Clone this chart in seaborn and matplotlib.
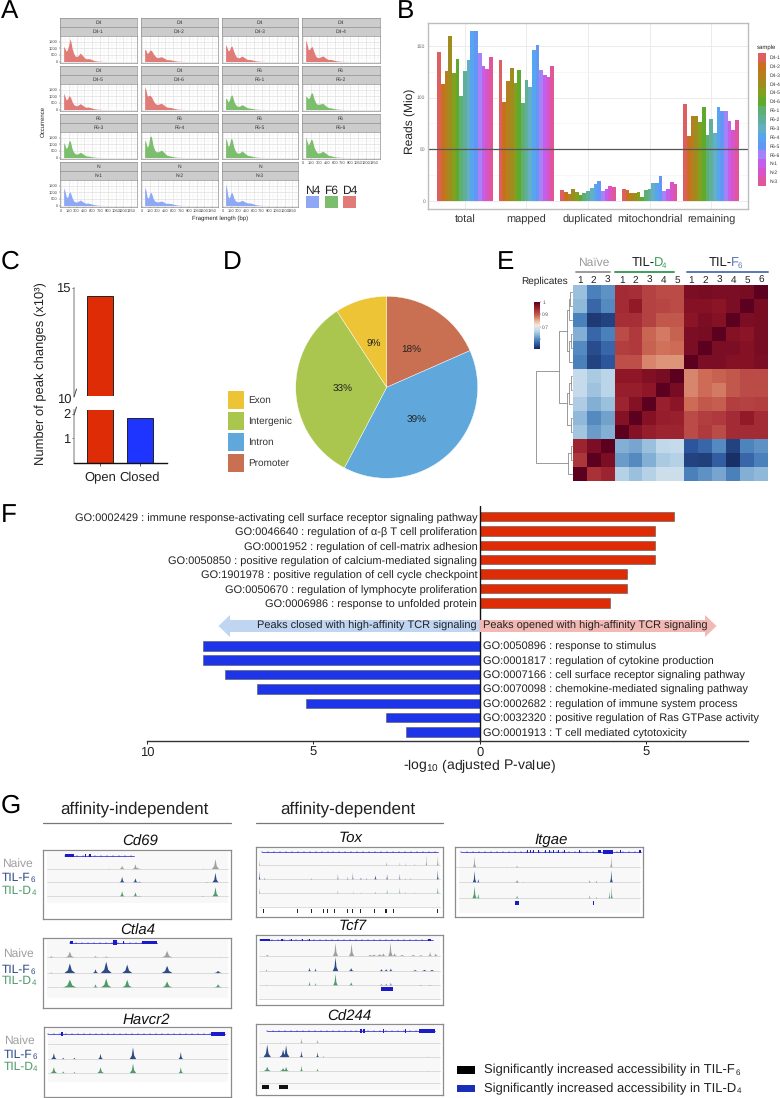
import numpy as np
import pandas as pd
import matplotlib
matplotlib.use("Agg")
import matplotlib.pyplot as plt
from matplotlib.colors import LinearSegmentedColormap
from matplotlib.patches import Rectangle, FancyArrow
import seaborn as sns

sns.set_theme(style="white")
plt.rcParams['font.family'] = ['Liberation Sans', 'DejaVu Sans']
plt.rcParams['text.hinting'] = 'no_hinting'
plt.rcParams['text.hinting_factor'] = 1
plt.rcParams['mathtext.fontset'] = 'custom'
plt.rcParams['mathtext.rm'] = 'Liberation Sans'
plt.rcParams['mathtext.default'] = 'rm'
W, H = 780, 1098
fig = plt.figure(figsize=(W/100, H/100), dpi=100)

def axpx(x0, y0, x1, y1, **kw):
    return fig.add_axes([x0/W, 1-y1/H, (x1-x0)/W, (y1-y0)/H], **kw)

def tx(x, y, s, **kw):
    kw.setdefault('ha', 'left'); kw.setdefault('va', 'center')
    return fig.text(x/W, 1-y/H, s, **kw)

for lab, x, y in [('A',1,11),('B',397,11),('C',1,262),('D',223,262),('E',497,262),('F',1,515),('G',1,806)]:
    tx(x, y, lab, fontsize=18.5, color='black')

# ------------------- A
fl_x = [50, 75, 100, 125, 150, 175, 190, 210, 240, 270, 300, 330, 370, 400, 440, 480, 520, 560, 600, 650, 700, 760, 820, 900]
fl_samples = ['D4-1','D4-2','D4-3','D4-4','D4-5','D4-6','F6-1','F6-2','F6-3','F6-4','F6-5','F6-6','N-1','N-2','N-3']
fl_groups = ['D4']*6 + ['F6']*6 + ['N']*3
fl_col = {'D4':'#E07B77','F6':'#7DBE6E','N':'#8FA8F5'}
fl_vals = {
 'D4-1':[1150,1000,780,950,1300,1750,1500,1050,650,430,380,450,650,520,330,210,220,200,130,60,30,15,5,0],
 'D4-2':[950,850,620,700,880,860,780,650,470,350,290,320,370,310,220,140,140,120,80,40,20,10,3,0],
 'D4-3':[1300,1100,820,880,1150,1180,1000,750,480,320,280,320,420,340,230,150,150,130,80,40,20,10,3,0],
 'D4-4':[1650,1350,900,950,1100,1150,950,700,420,300,300,350,430,360,230,150,160,130,80,40,20,10,3,0],
 'D4-5':[1250,1000,720,820,1050,1000,850,620,400,310,280,340,450,370,250,170,190,160,100,50,25,10,3,0],
 'D4-6':[1750,1500,1050,1050,1100,1000,900,720,520,420,380,430,480,400,280,180,170,150,100,50,25,10,3,0],
 'F6-1':[880,800,570,750,1050,1130,950,650,400,280,230,270,370,310,200,130,110,90,50,25,10,5,0,0],
 'F6-2':[1050,950,820,950,1250,1280,1100,800,520,400,400,430,480,390,250,150,130,100,60,30,15,5,0,0],
 'F6-3':[1150,950,680,850,1250,1300,1050,700,420,300,250,300,400,340,220,130,110,90,50,25,10,5,0,0],
 'F6-4':[1350,1150,780,1000,1600,1650,1400,950,600,450,430,470,570,480,310,170,140,100,60,30,15,5,0,0],
 'F6-5':[1500,1250,850,1000,1450,1420,1150,800,500,370,320,380,500,410,270,160,140,110,60,30,15,5,0,0],
 'F6-6':[1600,1250,950,1150,1400,1350,1100,780,520,370,330,380,480,420,300,170,140,100,55,30,15,5,0,0],
 'N-1':[1350,1100,700,600,950,1050,880,620,370,280,260,320,420,340,230,170,180,150,100,50,25,10,3,0],
 'N-2':[1400,1150,620,580,950,1000,850,580,360,300,270,300,340,300,200,170,170,150,100,50,25,10,3,0],
 'N-3':[1650,1250,650,600,950,1000,850,580,360,300,280,320,400,340,240,200,190,170,110,55,25,10,3,0],
}
cols_px = [(60,137),(141,218),(222,298),(302,380)]
rows_px = [(18,36,63),(66,84,111),(114,132,159),(162,180,207)]
ticks_x = [0,150,300,450,600,750,900,1050,1200,1350]
for i, s in enumerate(fl_samples):
    c, r = i % 4, i // 4
    x0, x1 = cols_px[c]; t0, t1, b = rows_px[r]
    g = fl_groups[i]
    for (a, e, lbl) in [(t0, (t0+t1)/2, g), ((t0+t1)/2, t1, s)]:
        sa = axpx(x0, a, x1, e)
        sa.set_facecolor('#CCCCCC'); sa.set_xticks([]); sa.set_yticks([])
        for sp in sa.spines.values():
            sp.set_color('#8f8f8f'); sp.set_linewidth(0.5)
        sa.text(.5, .5, lbl, transform=sa.transAxes, ha='center', va='center', fontsize=3.5, color='#333333')
    ax = axpx(x0, t1, x1, b)
    ax.fill_between(fl_x, 0, fl_vals[s], color=fl_col[g], lw=0)
    ax.set_xlim(-20, 1460); ax.set_ylim(-115, 1960)
    ax.set_xticks(ticks_x); ax.set_yticks([0,500,1000,1500])
    ax.set_xticks(np.arange(75,1450,150), minor=True); ax.set_yticks([250,750,1250,1750], minor=True)
    ax.grid(True, which='major', color='#DDDDDD', lw=0.45); ax.grid(True, which='minor', color='#EEEEEE', lw=0.3)
    ax.set_axisbelow(True)
    ax.tick_params(which='minor', length=0)
    showx = (r == 3) or (r == 2 and c == 3)
    ax.tick_params(axis='x', which='major', labelbottom=showx, bottom=showx, labelsize=3.2, length=1, width=.3, pad=.6, labelcolor='#444444')
    ax.tick_params(axis='y', which='major', labelleft=(c == 0), left=(c == 0), labelsize=3.2, length=1, width=.3, pad=.6, labelcolor='#444444')
    for sp in ax.spines.values():
        sp.set_color('#8f8f8f'); sp.set_linewidth(0.5)
tx(43, 121.7, 'Occurrence', rotation=90, fontsize=4.3, ha='center', color='#222222')
tx(220, 218.5, 'Fragment length (bp)', fontsize=4.3, ha='center', color='#222222')
for nm, x0, x1, c in [('N4',306,319,'#8FA8F5'),('F6',325,338,'#7DBE6E'),('D4',343,356,'#E07B77')]:
    tx((x0+x1)/2, 190.5, nm, ha='center', fontsize=8.3, color='#222222')
    k = axpx(x0, 196, x1, 208); k.set_facecolor(c); k.set_xticks([]); k.set_yticks([])
    for sp in k.spines.values(): sp.set_visible(False)

# ------------------- B
stages = ['total','mapped','duplicated','mitochondrial','remaining']
b_samples = fl_samples
b_total = [144,113,126,159,124,137,101,126,136,164,164,143,130,128,139]
b_mapped = [136,96,116,129,114,127,95,117,110,146,151,127,122,120,130]
b_dup = [10.5,9,7,12,9,6,7.5,9.5,13,16,19.5,10,12,15,14]
b_mito = [12,10.5,8,8,8.5,4,10.5,12,17,17,24,10,12,18,16.5]
b_rem = [93.5,63,82.5,82,76,91,64,79,66,91,87,87,77,68.5,78.5]
b_pal = ['#DE5F5F','#C8701E','#B4801E','#A08C1E','#82A01E','#5FAA2D','#5FAF73','#5FAF9B','#64AFC3','#55A5F0','#6496F5','#A582F5','#C35FEB','#D755C8','#E1559B']
dfb = pd.DataFrame({'stage':np.repeat(stages,15),'sample':b_samples*5,'reads':b_total+b_mapped+b_dup+b_mito+b_rem})
ax = axpx(428, 23, 748, 209)
sns.barplot(data=dfb, x='stage', y='reads', hue='sample', palette=b_pal, order=stages, hue_order=b_samples, width=.9, saturation=1, ax=ax, legend=True, linewidth=0, gap=0)
ax.set_xlim(-.6, 4.6); ax.set_ylim(-7.7, 172)
ax.set_yticks([0,50,100,150]); ax.set_yticks([25,75,125], minor=True)
ax.grid(True, axis='both', which='major', color='#EBEBEB', lw=.7); ax.grid(True, axis='y', which='minor', color='#F2F2F2', lw=.4)
ax.set_axisbelow(True)
ax.axhline(50, color='#555555', lw=.9)
ax.set_xlabel(''); ax.set_ylabel('')
ax.tick_params(axis='x', labelsize=8.0, length=0, pad=4, labelcolor='#333333')
ax.tick_params(axis='y', labelsize=3.8, length=0, pad=2, labelcolor='#666666')
for sp in ax.spines.values():
    sp.set_color('#BDBDBD'); sp.set_linewidth(1)
h, l = ax.get_legend_handles_labels()
ax.get_legend().remove()
leg = fig.legend(h, l, loc='upper left', bbox_to_anchor=(757.5/W, 1-53/H), frameon=False, fontsize=3.6, handlelength=1.75, handleheight=2.35, labelspacing=0, handletextpad=.65, borderpad=0, borderaxespad=0, labelcolor='#333333')
tx(757, 47.5, 'sample', fontsize=4.2, color='#222222')
tx(410.7, 121.7, 'Reads (Mio)', rotation=90, fontsize=8.4, ha='center', color='#222222')

# ------------------- C
c_cat = ['Open','Closed']
c_val = [14.65, 1.82]
c_col = ['#DE2C06','#1E34FF']
dfc = pd.DataFrame({'dir':c_cat,'n':c_val})
for (y0, y1, lo, hi, yt, ylbl) in [(288,396,10.1,15,[15],['15']),(410,463,0,2.15,[1,2],['1','2'])]:
    ax = axpx(74, y0, 167, y1)
    ax.patch.set_alpha(0)
    sns.barplot(data=dfc, x='dir', y='n', hue='dir', palette=c_col, width=.667, saturation=1, ax=ax, legend=False, edgecolor='#222222', linewidth=.7)
    ax.set_xlim(-.65, 1.675); ax.set_ylim(lo, hi)
    ax.set_yticks(yt); ax.set_yticklabels(ylbl, fontsize=9.5, color='#222222')
    ax.set_xlabel(''); ax.set_ylabel('')
    ax.tick_params(axis='y', length=1.5, width=.7, color='#555555', pad=1, left=True)
    for sp in ['top','right']: ax.spines[sp].set_visible(False)
    ax.spines['left'].set_color('#A8A8A8'); ax.spines['left'].set_linewidth(1.1)
    if y0 == 288:
        ax.spines['bottom'].set_visible(False); ax.set_xticks([])
    else:
        ax.spines['bottom'].set_color('#111111'); ax.spines['bottom'].set_linewidth(1)
        ax.set_xticks([0,1]); ax.set_xticklabels(c_cat, fontsize=9.2, color='#222222')
        ax.tick_params(axis='x', length=2, width=.6, color='#444444', pad=4, bottom=True)
tx(71, 400, '10', fontsize=9.5, ha='right', color='#222222')
for yy in (393, 411):
    fig.add_artist(plt.Line2D([74/W, 76.5/W], [1-(yy+4)/H, 1-(yy-4)/H], color='#444444', lw=.7))
tx(41, 374, 'Number of peak changes (x10³)', rotation=90, fontsize=9.1, ha='center', color='#222222')

# ------------------- D
d_lab = ['Promoter','Intron','Intergenic','Exon']
d_val = [18.4, 39.3, 33.1, 9.2]
d_txt = ['18%','39%','33%','9%']
d_col = ['#C97052','#60A8DC','#ABC64F','#ECC435']
ax = axpx(295.7, 296.3, 477.7, 478.3)
wed, _ = ax.pie(d_val, colors=d_col, startangle=90, counterclock=False, radius=1, wedgeprops=dict(lw=.3, edgecolor='white'))
for w, t in zip(wed, d_txt):
    a = np.deg2rad((w.theta1+w.theta2)/2)
    ax.text(.49*np.cos(a), .49*np.sin(a), t, ha='center', va='center', fontsize=7, color='#222222')
ax.set_xlim(-1,1); ax.set_ylim(-1,1)
for i, j in enumerate([3,2,1,0]):
    ya = 391 + i*21
    k = axpx(228, ya, 244, ya+17.5); k.set_facecolor(d_col[j]); k.set_xticks([]); k.set_yticks([])
    for sp in k.spines.values(): sp.set_visible(False)
    tx(248, ya+9, d_lab[j], fontsize=7.2, color='#333333')

# ------------------- E
e_grid = [
 [.64,.57,.59,.915,.91,.885,.875,.875,.965,.97,.965,.965,.97,1.0],
 [.63,.54,.58,.915,.94,.885,.88,.875,.955,.955,.95,.965,1.0,.97],
 [.57,.49,.50,.91,.91,.885,.86,.86,.95,.965,.955,1.0,.965,.97],
 [.62,.54,.57,.875,.895,.845,.83,.85,.965,.97,1.0,.955,.95,.97],
 [.58,.51,.54,.89,.895,.85,.835,.84,.965,1.0,.965,.965,.955,.97],
 [.57,.50,.52,.87,.87,.82,.81,.81,1.0,.965,.965,.955,.955,.965],
 [.68,.655,.67,.945,.945,.96,.97,1.0,.82,.84,.85,.86,.875,.875],
 [.68,.645,.67,.935,.935,.945,1.0,.97,.82,.84,.83,.86,.875,.875],
 [.66,.62,.64,.925,.955,1.0,.93,.95,.84,.86,.855,.89,.885,.89],
 [.63,.58,.605,.955,1.0,.955,.935,.93,.875,.89,.895,.915,.94,.915],
 [.65,.60,.62,1.0,.955,.935,.925,.925,.875,.895,.875,.915,.915,.915],
 [.925,.965,1.0,.62,.61,.64,.675,.68,.52,.54,.58,.50,.575,.59],
 [.90,1.0,.965,.60,.58,.62,.655,.665,.50,.495,.53,.48,.54,.57],
 [1.0,.905,.925,.665,.64,.665,.69,.69,.57,.59,.61,.57,.62,.63]]
e_colors = ['#14285A','#2F58A0','#4F86BD','#8FB8D9','#C7DCEC','#F0E9E4','#EAB596','#CC6A55','#B13A3E','#8E1526','#5C0020']
e_cmap = LinearSegmentedColormap.from_list('e', e_colors)
ax = axpx(572.7, 285, 768, 480.7)
cax = axpx(534, 301.7, 539.7, 349)
sns.heatmap(np.array(e_grid), cmap=e_cmap, vmin=.47, vmax=1, ax=ax, cbar_ax=cax, xticklabels=[1,2,3,1,2,3,4,5,1,2,3,4,5,6], yticklabels=False, linewidths=0)
ax.xaxis.tick_top()
ax.tick_params(axis='x', length=0, labelsize=7, pad=0, labelcolor='#222222', rotation=0)
cax.set_yticks([.996,.865,.72,.585]); cax.set_yticklabels(['1','0.9','0.7',''], fontsize=3.6, color='#555555')
cax.tick_params(length=1, width=.3, pad=.8, right=True)
tx(568, 281, 'Replicates', fontsize=7, ha='right', color='#222222')
for (x0, x1, c) in [(576.3,610,'#9A9A9A'),(615.3,674,'#3F9E5E'),(686.7,768,'#5B76B8')]:
    fig.add_artist(plt.Line2D([x0/W, x1/W], [1-272/H]*2, color=c, lw=1.4))
tx(593.7, 263, 'Naïve', fontsize=8.8, ha='center', color='#9A9A9A')
tx(631.7, 263, 'TIL-', fontsize=9, color='#222222')
tx(654, 263, 'D', fontsize=9, color='#3F9E5E'); tx(662, 265.5, '4', fontsize=5.8, color='#3F9E5E')
tx(708.3, 263, 'TIL-', fontsize=9, color='#222222')
tx(731, 263, 'F', fontsize=9, color='#5B76B8'); tx(738, 265.5, '6', fontsize=5.8, color='#5B76B8')
# dendrogram: x = depth (0 = leaves), y = row position
dend_segments = [
 [(.2,.5),(.5,.5),(.5,1.5),(.2,1.5)], [(.5,1.0),(.8,1.0),(.8,2.5),(.2,2.5)],
 [(.2,3.5),(.45,3.5),(.45,4.5),(.2,4.5)], [(.45,4),(.7,4),(.7,5.5),(.2,5.5)],
 [(.8,1.8),(1.15,1.8),(1.15,4.7),(.7,4.7)],
 [(.2,6.5),(.45,6.5),(.45,7.5),(.2,7.5)], [(.45,7),(.75,7),(.75,8.5),(.2,8.5)],
 [(.2,9.5),(.45,9.5),(.45,10.5),(.2,10.5)], [(.75,7.7),(1.15,7.7),(1.15,10),(.45,10)],
 [(1.15,3.3),(2.94,3.3),(2.94,8.45),(1.15,8.45)],
 [(.2,11.5),(.45,11.5),(.45,12.5),(.2,12.5)], [(.45,12),(1.1,12),(1.1,13.5),(.2,13.5)],
 [(2.94,6.15),(7.9,6.15),(7.9,12.73),(1.1,12.73)],
]
dax = axpx(534, 285, 572.7, 480.7)
for seg in dend_segments:
    xs, ys = zip(*seg); dax.plot(xs, ys, color='#8A8A8A', lw=.6)
dax.set_xlim(8.3, 0); dax.set_ylim(14, 0); dax.axis('off')

# ------------------- F
go_up = ['GO:0002429 : immune response-activating cell surface receptor signaling pathway','GO:0046640 : regulation of α-β T cell proliferation','GO:0001952 : regulation of cell-matrix adhesion','GO:0050850 : positive regulation of calcium-mediated signaling','GO:1901978 : positive regulation of cell cycle checkpoint','GO:0050670 : regulation of lymphocyte proliferation','GO:0006986 : response to unfolded protein']
go_up_val = [5.83, 5.25, 5.25, 5.25, 4.43, 4.43, 3.9]
go_dn = ['GO:0050896 : response to stimulus','GO:0001817 : regulation of cytokine production','GO:0007166 : cell surface receptor signaling pathway','GO:0070098 : chemokine-mediated signaling pathway','GO:0002682 : regulation of immune system process','GO:0032320 : positive regulation of Ras GTPase activity','GO:0001913 : T cell mediated cytotoxicity']
go_dn_val = [8.31, 8.31, 7.67, 6.7, 5.23, 2.81, 2.21]
up_row = [0,1,2,3,4,5,6]; dn_row = [9,10,11,12,13,14,15]
ax = axpx(147, 506, 748, 741)
rowh = 14.35
top_y = 516.7
px2row = lambda y: (y-top_y)/rowh
ax.barh(up_row, go_up_val, height=.66, color='#DE2C06', edgecolor='#555555', linewidth=.4)
ax.barh(dn_row, [-v for v in go_dn_val], height=.66, color='#1E34E8', edgecolor='#555555', linewidth=.4)
ax.set_xlim(-10, 8.05)
ax.set_ylim(px2row(741), px2row(506))
ax.set_yticks([])
ax.set_xticks([-10,-5,0,5]); ax.set_xticklabels(['10','5','0','5'], fontsize=9.2, color='#222222')
ax.tick_params(axis='x', length=2, width=.7, pad=2, bottom=True, color='#222222')
for sp in ['top','right','left']: ax.spines[sp].set_visible(False)
ax.spines['bottom'].set_linewidth(1); ax.spines['bottom'].set_color('#333333')
ax.axvline(0, color='#111111', lw=1)
for r, s in zip(up_row, go_up):
    ax.text(-.08, r+.15, s, ha='right', va='center', fontsize=8.1, color='#222222')
for r, s in zip(dn_row, go_dn):
    ax.text(.1, r+.1, s, ha='left', va='center', fontsize=8.1, color='#222222')
ar = axpx(147, 612, 748, 640); ar.set_xlim(147,748); ar.set_ylim(640,612); ar.axis('off')
ar.add_patch(FancyArrow(479, 626, -260.5, 0, width=12, head_width=22, head_length=11.5, length_includes_head=True, color='#BFD5F2', lw=0))
ar.add_patch(FancyArrow(479.5, 626, 237, 0, width=12, head_width=22, head_length=11.5, length_includes_head=True, color='#F2B8B4', lw=0))
ar.text(477, 625.5, 'Peaks closed with high-affinity TCR signaling', ha='right', va='center', fontsize=8, color='#222222')
ar.text(483, 626, 'Peaks opened with high-affinity TCR signaling', ha='left', va='center', fontsize=8, color='#222222')
tx(480, 766, '-log$_{10}$ (adjusted P-value)', fontsize=9.8, ha='center', color='#222222')

# ------------------- G
GRAY, NAVY, GREEN, GENE = '#A0A0A0', '#2B4A86', '#4B9A6A', '#1A1AC8'
# tracks: peaks as (position %, height 0-1, half-width %)
g_panels = {
 'Cd69': dict(box=(43.3,850,230.7,919.3), base=[868.7,882.3,896.3], h=10, gy=855.7, shade=903,
   gene=(11.6,48.4), exons=[(11.6,16.4,1),(22,22.7,1),(24.2,25.2,1),(30,30.4,1),(48.2,48.6,1)],
   tr=[[(41.8,.35,1.5),(48.9,.5,1.5),(91.6,1,2),(50,.12,3),(35,.05,1),(85,.05,1)],[(41.8,.6,1.5),(48.9,.45,1.5),(91.6,1,1.8),(51,.12,2),(87,.08,1)],[(41.8,.55,1.5),(48.9,.45,1.5),(91.6,.95,1.8),(51,.1,2),(85,.1,1)]]),
 'Ctla4': dict(box=(43.3,937.7,230.7,1008.3), base=[957.3,972.7,987.3], h=11.5, gy=942.7, shade=998,
   gene=(14.3,60.5), exons=[(14.3,15.7,1),(37.4,39.5,1.4),(42.3,43,1),(52.5,60.5,1)],
   tr=[[(13.9,.55,2.5),(4,.15,2),(27.6,.15,2),(33.3,.12,2.5),(65.8,.6,3),(93.5,.05,1)],[(13.9,.85,3),(27.6,.35,1.5),(33.3,1,3),(44.5,.75,2.8),(65.8,.65,3),(93,.2,2.5),(4,.05,1)],[(13.9,.7,3.8),(27.6,.3,1.5),(33.3,.8,3),(44.5,.7,2.8),(65.8,.55,3),(93,.3,2.5)]]),
 'Havcr2': dict(box=(44,1026.7,230.7,1097.3), base=[1044.3,1058.7,1072.7], h=12, gy=1034, shade=1081.7,
   gene=(2.3,97), exons=[(9.2,10,1.4),(89.7,96.8,1)],
   tr=[[],[(5,.5,1.5),(10,.12,1),(16,.12,1),(30,.45,1.3),(47.4,1,1.8),(73,.6,1.2)],[(5,.5,1.8),(10,.15,1),(16,.1,1),(30,.5,1.8),(47.4,.8,1.8),(73,.5,1.2)]]),
 'Tox': dict(box=(255.7,846.7,442.7,917.3), base=[865.3,879.3,893.3,907.3], h=11, gy=852, shade=907,
   gene=(3.2,97.5), exons=[],
   tr=[[(1.8,.5,.35),(69.7,.35,.5),(76.8,.35,.3),(79.9,.3,.3),(84.8,.25,.3),(91,1,.4),(97.1,.9,.5),(43.7,.08,.3),(36,.05,.3)],
       [(1.8,.8,.4),(4.5,.2,.4),(29.6,.15,.4),(43.7,.55,.3),(49,.3,.3),(51.7,.7,.3),(56,.2,.6),(59,.15,.5),(63.8,.4,.8),(70,.5,.5),(76.8,.6,.3),(79.9,.15,.3),(82.5,.15,.3),(97.1,.9,.5)],
       [(1.8,.5,.3),(43.7,.35,.3),(52,.2,.3),(56,.1,.5),(63.8,.15,.8),(70,.4,.4),(76.8,.6,.3),(79.9,.2,.3),(84.8,.15,.3),(97.1,.6,.5)]]),
 'Tcf7': dict(box=(255.7,934.7,442.7,1005.3), base=[955.7,970.7,985.3,999.3], h=14, gy=940, shade=1000,
   gene=(2.3,94.7), exons=[(2.3,7.7,.8),(13.5,14.5,.8),(16.5,17,.8),(19,19.5,.8),(25,25.4,.8),(28.5,29,.8),(92,93.5,.8)],
   tr=[[(42.4,.95,1.4),(51,.9,1.4),(71.8,1,1.2),(6,.1,1.5),(68,.2,1.5),(66,.15,2),(63,.12,2),(61,.1,2),(74,.2,1.5),(78,.1,2),(84,.1,2),(93,.3,1),(96,.2,1.2),(88,.08,2)],
       [(5.5,.1,.5),(28.5,.25,.8),(31.7,.2,.7),(42.4,1,1.5),(50.8,.22,1.5),(67,.15,1.2),(69.5,.15,1.2),(72,.2,1),(85,.08,2),(90,.1,2),(94,.1,2)],
       [(5.5,.08,.5),(28.5,.3,.8),(31.7,.2,.7),(42.4,.85,1.3),(50.8,.25,1.4),(67,.12,1.5),(69.5,.15,1.2),(72,.22,1),(88,.06,2),(93,.06,2)]]),
 'Cd244': dict(box=(255.7,1024,442.7,1094.7), base=[1042.7,1056.7,1070.7,1083.3], h=12.5, gy=1031, shade=1090,
   gene=(5.9,96), exons=[(5.9,6.3,1),(55.8,57,1.4),(57.5,58.6,1.4),(68.2,68.6,1.2),(70.5,70.9,1.2),(74.8,75.2,1.2),(80,80.4,1),(82.8,83.2,1),(87.3,95.9,1)],
   tr=[[(24.2,.4,.6),(32.8,.3,.6),(13,.05,1)],[(5.9,1,2),(14.4,.6,2),(16,.95,1.8),(24.2,.5,.8),(32.8,.4,.7),(36,.05,1),(92,.03,1)],[(5.9,.35,2),(14.4,.25,2),(16,.35,1.5),(24.2,.45,.7),(32.8,.2,.7),(92,.03,1)]]),
 'Itgae': dict(box=(455.3,846.7,642.7,917.3), base=[867,882.3,898.3], h=12.5, gy=851.7, shade=912.7,
   gene=(3,99), exons=[(37,37.4,.8),(38.5,39,.8),(40,40.5,.8),(41.5,42,.8),(44,44.4,.8),(46,46.5,.8),(48,48.4,.8),(50,50.5,.8),(52,52.5,.8),(55,55.4,.8),(58,58.4,.8),(61,61.4,.8),(66,66.4,.8),(76.3,77.8,.8),(79,84,1.2),(88,88.4,.8),(98,99,.8)],
   tr=[[(10,.9,.8),(32.7,.15,1),(83,.9,.6),(1,.06,1),(27,.08,.4)],[(10,.95,1),(12,.3,.8),(32.7,.2,1),(71.5,.2,.5),(75,.15,.6),(83,1,.8),(36,.08,.4)],[(10,1,1.2),(12,.4,.8),(32.7,.25,1),(71.5,.3,.5),(75,.15,.6),(82,.6,.5),(83.2,1,.5)]]),
}
g_marks = {
 'Tox': ('#222222', 911.3, [(4.1,.3),(22.3,.3),(29.6,.4),(36.2,.3),(38.3,.3),(42.1,.3),(43.9,.3),(49,.3),(51.7,.3),(56,.3),(63.5,.3),(65.2,.3),(69,1.2),(73.6,.2),(87.3,.2),(97,.7)]),
 'Tcf7': (GENE, 989.3, [(67.2,6.2)]),
 'Cd244': ('#111111', 1087.3, [(3.4,3.8),(12.7,4.4)]),
 'Itgae': (GENE, 903, [(21.5,.45),(31.7,2.5),(73.5,.45)]),
}
g_titles = {'Cd69':(139.7,842),'Ctla4':(138,931),'Havcr2':(146,1020),'Tox':(350.7,838),'Tcf7':(353,927),'Cd244':(349,1017),'Itgae':(551,840)}
for name, p in g_panels.items():
    x0, y0, x1, y1 = p['box']
    ax = axpx(x0, y0, x1, y1)
    ax.set_xlim(0, 100); ax.set_ylim(y1, y0)
    ax.set_xticks([]); ax.set_yticks([])
    for sp in ax.spines.values():
        sp.set_color('#8C8C8C'); sp.set_linewidth(.9)
    ax.add_patch(Rectangle((2, y0+2), 96.5, p['shade']-y0-2, color='#F8F8F8', lw=0))
    gy = p['gy']
    a, b = p['gene']
    ax.plot([a, b], [gy, gy], color=GENE, lw=.5)
    xs = np.arange(a, b, 3.2)
    ax.plot(xs, [gy]*len(xs), ls='none', marker='|', ms=1.6, mew=.3, color=GENE)
    for (a, b, hh) in p['exons']:
        ax.add_patch(Rectangle((a, gy-1.7*hh), b-a, 3.4*hh, color=GENE, lw=0))
    for base in p['base']:
        ax.plot([2, 98.5], [base, base], color='#CFCFCF', lw=.5)
    for tr, base, col in zip(p['tr'], p['base'], [GRAY, NAVY, GREEN]):
        for (pos, ht, w) in tr:
            hh = ht*p['h']
            ax.fill_between([pos-w, pos-w*.35, pos, pos+w*.35, pos+w], base, [base, base-hh*.3, base-hh, base-hh*.3, base], color=col, lw=0)
    if name in g_marks:
        c, ym, spans = g_marks[name]
        for (pos, wd) in spans:
            ax.add_patch(Rectangle((pos, ym-2), wd, 4, color=c, lw=0))
    tx(*g_titles[name], name, fontsize=11, style='italic', ha='center', color='#111111')
for hdr, x0, x1, xc in [('affinity-independent',43,230.7,134),('affinity-dependent',255.7,442.7,348)]:
    tx(xc, 809, hdr, fontsize=12.6, ha='center', color='#222222')
    fig.add_artist(plt.Line2D([x0/W, x1/W], [1-823.3/H]*2, color='#777777', lw=.9))
for xn, xt, (yn, yf, yd) in [(2,2,(864,877.5,891)),(3,2,(954,970,981)),(4,3.3,(1040.7,1055,1067))]:
    tx(xn, yn, 'Naive', fontsize=8.7, color=GRAY)
    tx(xt, yf, 'TIL-F', fontsize=8.7, color=NAVY); tx(xt+29, yf+2, '6', fontsize=5.6, color=NAVY)
    tx(xt, yd, 'TIL-D', fontsize=8.7, color=GREEN); tx(xt+30, yd+2, '4', fontsize=5.6, color=GREEN)
fig.canvas.draw()
for (y, c, s, sub) in [(1070,'#000000','Significantly increased accessibility in TIL-F','6'),(1088.5,'#1A2FB8','Significantly increased accessibility in TIL-D','4')]:
    k = axpx(457.3, y-3.6, 475.3, y+3.6); k.set_facecolor(c); k.set_xticks([]); k.set_yticks([])
    for sp in k.spines.values(): sp.set_visible(False)
    t = tx(484, y, s, fontsize=9, color='#222222')
    bb = t.get_window_extent(fig.canvas.get_renderer())
    tx(bb.x1+0.5, y+2.5, sub, fontsize=5.6, color='#222222')

fig.savefig('out.png', dpi=100)
